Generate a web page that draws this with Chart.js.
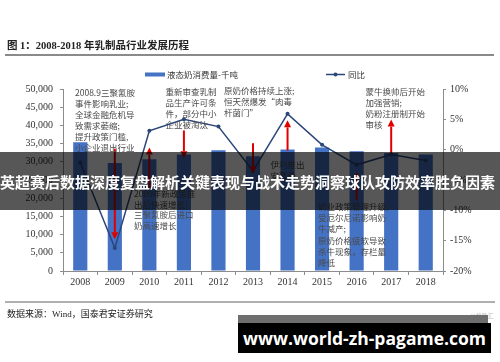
<!DOCTYPE html>
<html>
<head>
<meta charset="utf-8">
<script src="https://cdn.jsdelivr.net/npm/chart.js@4"></script>
<style>
  html,body{margin:0;padding:0;background:#fff;}
  #wrap{position:relative;width:500px;height:362px;overflow:hidden;font-family:"Liberation Serif","Noto Sans CJK SC",serif;}
  canvas{position:absolute;left:0;top:0;}
  .abs{position:absolute;white-space:pre;}
  .ann{position:absolute;white-space:pre;font-family:"Noto Sans CJK SC",sans-serif;font-size:8.5px;line-height:11px;color:#4a4a4a;}
  #title{left:7px;top:37px;font-size:10.5px;font-weight:bold;color:#222;}
  #tline{left:5px;top:54px;width:489px;height:1.5px;background:#8a8a8a;}
  #bline{left:5px;top:301px;width:490px;height:2px;background:#b0b0b0;}
  #src{left:7px;top:307px;font-size:9px;color:#222;}
  #banner{left:0;top:152px;width:500px;height:58px;background:rgba(0,0,0,0.66);}
  #btext{left:0;top:172px;width:500px;text-align:left;font-family:"Noto Sans CJK SC",sans-serif;font-weight:bold;font-size:15px;line-height:20px;color:#fff;}
  #wmstrip{left:238px;top:315px;width:250px;height:8px;background:#6e6e6e;}
  #wmbox{left:238px;top:323px;width:253px;height:30px;background:#000;}
  #wmtext{left:238px;top:326px;width:253px;text-align:center;font-family:"Open Sans","DejaVu Sans",sans-serif;font-weight:bold;font-size:17.5px;line-height:24px;color:#fff;}
  #glh{left:470px;top:311px;font-family:"Noto Sans CJK SC",sans-serif;font-size:6px;color:#bbb;}
</style>
</head>
<body>
<div id="wrap">
  <canvas id="c" width="500" height="362"></canvas>
  <div id="title" class="abs">图 1：2008-2018 年乳制品行业发展历程</div>
  <div id="tline" class="abs"></div>
  <div class="ann" style="left:75px;top:86.5px;">2008.9三聚氰胺
事件影响乳业;
全球金融危机导
致需求萎缩;
提升政策门槛,
小企业退出行业</div>
  <div class="ann" style="left:165.5px;top:85.5px;">重新审查乳制
品生产许可条
件，部分中小
企业被淘汰</div>
  <div class="ann" style="left:224px;top:84.5px;">原奶价格持续上涨;
恒天然爆发“肉毒
杆菌门”</div>
  <div class="ann" style="left:365.5px;top:86px;">蒙牛换帅后开始
加强营销;
奶粉注册制开始
审核</div>
  <div class="ann" style="left:134px;top:188px;line-height:10.5px;">2009年新政策推
出后快速增长;
三聚氰胺后进口
奶高速增长</div>
  <div class="ann" style="left:270.5px;top:158.5px;">伊利推出
安慕希</div>
  <div class="ann" style="left:318px;top:201px;line-height:11.2px;">奶业政策管理升级;
受厄尔尼诺影响奶
牛减产;
原奶价格疲软导致
杀牛现象，存栏量
降低</div>
  <div id="bline" class="abs"></div>
  <div id="src" class="abs">数据来源：Wind，国泰君安证券研究</div>
  <div id="banner" class="abs"></div>
  <div id="btext" class="abs">英超赛后数据深度复盘解析关键表现与战术走势洞察球队攻防效率胜负因素</div>
  <div id="glh" class="abs">@格隆汇</div>
  <div id="wmstrip" class="abs"></div>
  <div id="wmbox" class="abs"></div>
  <div id="wmtext" class="abs">www.world-zh-pagame.com</div>
</div>
<script>
// ---- data ----
const years = ['2008','2009','2010','2011','2012','2013','2014','2015','2016','2017','2018'];
const consumption = [35400, 29700, 30700, 32000, 33200, 31500, 33400, 33900, 32900, 32400, 32000];
const yoy = [-2.1, -16.2, 3.1, 5.0, 3.8, -3.5, 5.9, 0.8, -2.5, -0.8, -1.8];
const leftTicks = [0, 5000, 10000, 15000, 20000, 25000, 30000, 35000, 40000, 45000, 50000];
const rightTicks = [-20, -15, -10, -5, 0, 5, 10];
// red arrows: category, start value, end value (left axis units)
const arrowYears = ['2009','2010','2011','2013','2014','2016','2017'];
const arrowFrom  = [33600, 22700, 38600, 35100, 33100, 19400, 32300];
const arrowTo    = [ 8700, 33900, 31000, 26800, 41400, 27200, 41600];
const barLabel = '液态奶消费量-千吨';
const lineLabel = '同比';

const barColor = '#4472C4';
const lineColor = '#2b4679';
const axisColor = '#8c8c8c';
const tickFont = {family: 'Liberation Serif', size: 10};

const extras = {
  id: 'extras',
  afterDatasetsDraw(chart) {
    const ctx = chart.ctx, x = chart.scales.x, y = chart.scales.y;
    ctx.save();
    ctx.strokeStyle = '#e00000';
    ctx.fillStyle = '#e00000';
    ctx.lineWidth = 2;
    arrowYears.forEach((yr, i) => {
      const px = x.getPixelForValue(years.indexOf(yr));
      const y0 = y.getPixelForValue(arrowFrom[i]);
      const y1 = y.getPixelForValue(arrowTo[i]);
      const dir = y1 > y0 ? 1 : -1;
      const head = 7;
      ctx.beginPath();
      ctx.moveTo(px, y0);
      ctx.lineTo(px, y1 - dir * head);
      ctx.stroke();
      ctx.beginPath();
      ctx.moveTo(px - 3.5, y1 - dir * head);
      ctx.lineTo(px + 3.5, y1 - dir * head);
      ctx.lineTo(px, y1);
      ctx.closePath();
      ctx.fill();
    });
    ctx.restore();
  },
  afterDraw(chart) {
    const ctx = chart.ctx;
    ctx.save();
    ctx.font = '8.5px "Noto Sans CJK SC"';
    ctx.textBaseline = 'middle';
    ctx.fillStyle = barColor;
    ctx.fillRect(145, 72.5, 20, 4);
    ctx.fillStyle = '#333';
    ctx.fillText(barLabel, 167, 74.5);
    ctx.strokeStyle = lineColor;
    ctx.lineWidth = 1.5;
    ctx.beginPath();
    ctx.moveTo(326, 74.5); ctx.lineTo(345, 74.5); ctx.stroke();
    ctx.fillStyle = lineColor;
    ctx.beginPath(); ctx.arc(335.5, 74.5, 2, 0, Math.PI * 2); ctx.fill();
    ctx.fillStyle = '#333';
    ctx.fillText(lineLabel, 348, 74.5);
    ctx.restore();
  }
};

new Chart(document.getElementById('c'), {
  data: {
    labels: years,
    datasets: [
      {type: 'line', label: lineLabel, data: yoy, yAxisID: 'y2', borderColor: lineColor, backgroundColor: lineColor,
       borderWidth: 1.5, pointRadius: 2, pointBorderWidth: 0, pointBackgroundColor: lineColor, tension: 0, order: 0},
      {type: 'bar', label: barLabel, data: consumption, yAxisID: 'y', backgroundColor: barColor,
       barPercentage: 0.41, categoryPercentage: 1, order: 1}
    ]
  },
  options: {
    responsive: false, animation: false, devicePixelRatio: 1,
    layout: {padding: {top: 89, bottom: 0, left: 0, right: 0}},
    plugins: {legend: {display: false}, tooltip: {enabled: false}},
    scales: {
      x: {
        offset: true,
        border: {color: axisColor},
        grid: {offset: true, drawOnChartArea: false, tickLength: 4, color: axisColor},
        ticks: {font: tickFont, color: '#333', padding: 1, maxRotation: 0, autoSkip: false},
        afterFit(s) { s.height = 91; }
      },
      y: {
        position: 'left', min: 0, max: 50000,
        border: {color: axisColor},
        grid: {drawOnChartArea: false, tickLength: 3, color: axisColor},
        afterBuildTicks(s) { s.ticks = leftTicks.map(v => ({value: v})); },
        ticks: {font: tickFont, color: '#333', padding: 7, callback: v => v.toLocaleString('en-US')},
        afterFit(s) { s.width = 63; }
      },
      y2: {
        position: 'right', min: -20, max: 10,
        border: {color: axisColor},
        grid: {drawOnChartArea: false, tickLength: 3, color: axisColor},
        afterBuildTicks(s) { s.ticks = rightTicks.map(v => ({value: v})); },
        ticks: {font: tickFont, color: '#333', padding: 4, callback: v => v + '%'},
        afterFit(s) { s.width = 57; }
      }
    }
  },
  plugins: [extras]
});
</script>
</body>
</html>
